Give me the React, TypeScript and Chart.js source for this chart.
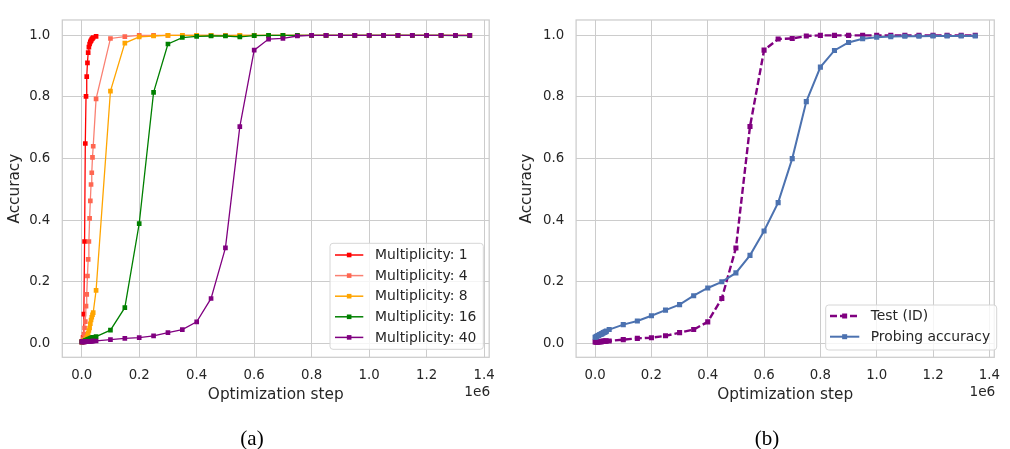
import React, { useEffect, useRef } from 'react';
import { Chart, registerables } from 'chart.js';

Chart.register(...registerables);

// ---------- data ----------
const stepsFine = [0, 2500, 5000, 7500, 10000, 12500, 15000, 17500, 20000, 22500, 25000, 27500, 30000, 32500, 35000, 37500, 40000];
const stepsCoarse = [50000, 100000, 150000, 200000, 250000, 300000, 350000, 400000, 450000, 500000, 550000, 600000, 650000, 700000, 750000, 800000, 850000, 900000, 950000, 1000000, 1050000, 1100000, 1150000, 1200000, 1250000, 1300000, 1350000];

const accM1Fine = [0.005, 0.007, 0.02, 0.095, 0.331, 0.649, 0.802, 0.866, 0.911, 0.944, 0.962, 0.972, 0.979, 0.983, 0.988, 0.99, 0.993];
const accM1Coarse = [0.997];

const accM4Fine = [0.005, 0.005, 0.015, 0.03, 0.05, 0.071, 0.121, 0.159, 0.219, 0.273, 0.331, 0.406, 0.463, 0.516, 0.554, 0.604, 0.64];
const accM4Coarse = [0.794, 0.99, 0.996, 1.0, 1.0, 1.0, 1.0, 1.0, 1.0, 1.0, 1.0, 1.0, 1.0, 1.0, 1.0, 1.0, 1.0, 1.0, 1.0, 1.0, 1.0, 1.0, 1.0, 1.0, 1.0, 1.0, 1.0];

const accM8Fine = [0.005, 0.005, 0.005, 0.008, 0.01, 0.012, 0.015, 0.02, 0.025, 0.033, 0.042, 0.05, 0.064, 0.076, 0.085, 0.093, 0.1];
const accM8Coarse = [0.172, 0.819, 0.975, 0.995, 0.998, 1.0, 1.0, 1.0, 1.0, 0.999, 1.0, 1.0, 1.0, 1.0, 1.0, 1.0, 1.0, 1.0, 1.0, 1.0, 1.0, 1.0, 1.0, 1.0, 1.0, 1.0, 1.0];

const accM16Fine = [0.005, 0.006, 0.006, 0.007, 0.008, 0.009, 0.01, 0.011, 0.012, 0.013, 0.014, 0.015, 0.016, 0.017, 0.018, 0.019, 0.02];
const accM16Coarse = [0.022, 0.043, 0.116, 0.389, 0.815, 0.972, 0.993, 0.997, 0.998, 0.998, 0.995, 0.999, 1.0, 1.0, 1.0, 1.0, 1.0, 1.0, 1.0, 1.0, 1.0, 1.0, 1.0, 1.0, 1.0, 0.999, 0.999];

const accM40Fine = [0.005, 0.005, 0.005, 0.005, 0.005, 0.006, 0.006, 0.006, 0.006, 0.006, 0.007, 0.007, 0.007, 0.007, 0.007, 0.008, 0.008];
const accM40Coarse = [0.008, 0.0124, 0.0165, 0.0186, 0.0248, 0.035, 0.045, 0.07, 0.146, 0.31, 0.704, 0.952, 0.988, 0.99, 0.998, 1.0, 1.0, 1.0, 1.0, 1.0, 1.0, 1.0, 1.0, 1.0, 1.0, 1.0, 1.0];

const testIdFine = accM40Fine;
const testIdCoarse = accM40Coarse;

const probeFine = [0.02, 0.021, 0.022, 0.024, 0.025, 0.026, 0.028, 0.029, 0.03, 0.031, 0.032, 0.034, 0.035, 0.036, 0.037, 0.038, 0.04];
const probeCoarse = [0.045, 0.061, 0.073, 0.09, 0.108, 0.126, 0.155, 0.18, 0.2, 0.229, 0.286, 0.365, 0.457, 0.6, 0.785, 0.897, 0.951, 0.977, 0.989, 0.994, 0.996, 0.997, 0.997, 0.998, 0.998, 0.998, 0.998];

const xTicks = [0, 200000, 400000, 600000, 800000, 1000000, 1200000, 1400000];
const yTicks = [0, 0.2, 0.4, 0.6, 0.8, 1.0];

const leftLabels = ['Multiplicity: 1', 'Multiplicity: 4', 'Multiplicity: 8', 'Multiplicity: 16', 'Multiplicity: 40'];
const rightLabels = ['Test (ID)', 'Probing accuracy'];

// ---------- style ----------
const FONT = '"DejaVu Sans", sans-serif';
const TEXT = '#262626';
const GRID = '#cccccc';
const FS = 13.3;
const FS_TITLE = 15.3;
const FS_LEGEND = 13.9;

const COLORS = {
  m1: { line: '#ff0000', mark: '#ff0000' },
  m4: { line: '#fa8072', mark: '#ff6650' },
  m8: { line: '#ffa500', mark: '#ffa500' },
  m16: { line: '#008000', mark: '#008000' },
  m40: { line: '#800080', mark: '#800080' },
  probe: { line: '#4c72b0', mark: '#4c72b0' },
};

function pts(steps: number[], vals: number[]) {
  return steps.map((s, i) => ({ x: s, y: vals[i] }));
}

type LegendItem = { label: string; line: string; mark: string; dash?: number[]; lw: number; r: number };
type LegendSpec = {
  x: number; y: number; w: number; h: number; rows: number[];
  hx0: number; hx1: number; tx: number; items: LegendItem[];
};

function overlayPlugin(legend: LegendSpec) {
  return {
    id: 'overlay',
    beforeDatasetsDraw(chart: any) {
      const { ctx, chartArea: a } = chart;
      ctx.save();
      ctx.strokeStyle = GRID;
      ctx.lineWidth = 1.25;
      ctx.strokeRect(a.left, a.top, a.right - a.left, a.bottom - a.top);
      ctx.restore();
    },
    afterDraw(chart: any) {
      const { ctx, chartArea: a } = chart;
      ctx.save();
      // offset text
      ctx.font = `${FS + 0.4}px ${FONT}`;
      ctx.fillStyle = TEXT;
      ctx.textAlign = 'right';
      ctx.textBaseline = 'middle';
      ctx.fillText('1e6', a.right + 1, 392);
      // legend box
      const L = legend;
      ctx.beginPath();
      const rr = 3;
      ctx.moveTo(L.x + rr, L.y);
      ctx.arcTo(L.x + L.w, L.y, L.x + L.w, L.y + L.h, rr);
      ctx.arcTo(L.x + L.w, L.y + L.h, L.x, L.y + L.h, rr);
      ctx.arcTo(L.x, L.y + L.h, L.x, L.y, rr);
      ctx.arcTo(L.x, L.y, L.x + L.w, L.y, rr);
      ctx.closePath();
      ctx.fillStyle = 'rgba(255,255,255,0.8)';
      ctx.fill();
      ctx.strokeStyle = '#d6d6d6';
      ctx.lineWidth = 1;
      ctx.stroke();
      L.items.forEach((it, i) => {
        const y = L.rows[i];
        ctx.beginPath();
        ctx.setLineDash(it.dash || []);
        ctx.strokeStyle = it.line;
        ctx.lineWidth = it.lw;
        ctx.moveTo(L.hx0, y);
        ctx.lineTo(L.hx1, y);
        ctx.stroke();
        ctx.setLineDash([]);
        const cx = (L.hx0 + L.hx1) / 2;
        ctx.fillStyle = it.mark;
        ctx.fillRect(cx - it.r, y - it.r, it.r * 2, it.r * 2);
        ctx.fillStyle = TEXT;
        ctx.textAlign = 'left';
        ctx.textBaseline = 'middle';
        ctx.font = `${FS_LEGEND}px ${FONT}`;
        ctx.fillText(it.label, L.tx, y + 0.5);
      });
      ctx.restore();
    },
  };
}

function scales(yWidth: number, yTitlePad: number) {
  return {
    x: {
      type: 'linear',
      min: -67500,
      max: 1417500,
      afterBuildTicks: (s: any) => { s.ticks = xTicks.map((v) => ({ value: v })); },
      afterFit: (s: any) => { s.height = 91.7; },
      grid: { color: GRID, lineWidth: 1, drawTicks: false },
      border: { display: false },
      ticks: {
        autoSkip: false, maxRotation: 0, padding: 10, color: TEXT,
        font: { family: FONT, size: FS },
        callback: (v: any) => (Number(v) / 1e6).toFixed(1),
      },
      title: {
        display: true, text: 'Optimization step', color: TEXT,
        font: { family: FONT, size: FS_TITLE }, padding: { top: 0, bottom: 44.8 },
      },
    },
    y: {
      type: 'linear',
      min: -0.045,
      max: 1.05,
      afterBuildTicks: (s: any) => { s.ticks = yTicks.map((v) => ({ value: v })); },
      afterFit: (s: any) => { s.width = yWidth; },
      grid: { color: GRID, lineWidth: 1, drawTicks: false },
      border: { display: false },
      ticks: {
        autoSkip: false, padding: 12, color: TEXT,
        font: { family: FONT, size: FS },
        callback: (v: any) => Number(v).toFixed(1),
      },
      title: {
        display: true, text: 'Accuracy', color: TEXT,
        font: { family: FONT, size: FS_TITLE }, padding: { top: yTitlePad, bottom: 0 },
      },
    },
  };
}

function leftConfig(): any {
  const series = [
    { label: leftLabels[0], data: pts([...stepsFine, 50000], [...accM1Fine, ...accM1Coarse]), c: COLORS.m1 },
    { label: leftLabels[1], data: pts([...stepsFine, ...stepsCoarse], [...accM4Fine, ...accM4Coarse]), c: COLORS.m4 },
    { label: leftLabels[2], data: pts([...stepsFine, ...stepsCoarse], [...accM8Fine, ...accM8Coarse]), c: COLORS.m8 },
    { label: leftLabels[3], data: pts([...stepsFine, ...stepsCoarse], [...accM16Fine, ...accM16Coarse]), c: COLORS.m16 },
    { label: leftLabels[4], data: pts([...stepsFine, ...stepsCoarse], [...accM40Fine, ...accM40Coarse]), c: COLORS.m40 },
  ];
  const n = series.length;
  return {
    type: 'line',
    data: {
      datasets: series.map((s, i) => ({
        label: s.label,
        data: s.data,
        borderColor: s.c.line,
        backgroundColor: s.c.mark,
        borderWidth: 1.3,
        pointStyle: 'rect',
        pointRadius: 3.3,
        pointBorderWidth: 0,
        pointBackgroundColor: s.c.mark,
        pointHoverRadius: 3.3,
        tension: 0,
        fill: false,
        order: n - 1 - i,
      })),
    },
    options: {
      responsive: false,
      devicePixelRatio: 1,
      animation: false,
      events: [],
      layout: { padding: { top: 3.1, right: 15.8, left: 0, bottom: 0 } },
      plugins: { legend: { display: false }, tooltip: { enabled: false } },
      scales: scales(62.3, 5.8),
    },
    plugins: [overlayPlugin({
      x: 330, y: 243.3, w: 153.3, h: 106,
      rows: [255, 275.6, 296.2, 316.8, 337.4],
      hx0: 335, hx1: 363.3, tx: 375,
      items: [
        { label: leftLabels[0], line: COLORS.m1.line, mark: COLORS.m1.mark, lw: 1.5, r: 2.3 },
        { label: leftLabels[1], line: COLORS.m4.line, mark: COLORS.m4.mark, lw: 1.5, r: 2.3 },
        { label: leftLabels[2], line: COLORS.m8.line, mark: COLORS.m8.mark, lw: 1.5, r: 2.3 },
        { label: leftLabels[3], line: COLORS.m16.line, mark: COLORS.m16.mark, lw: 1.5, r: 2.3 },
        { label: leftLabels[4], line: COLORS.m40.line, mark: COLORS.m40.mark, lw: 1.5, r: 2.3 },
      ],
    })],
  };
}

function rightConfig(): any {
  return {
    type: 'line',
    data: {
      datasets: [
        {
          label: rightLabels[0],
          data: pts([...stepsFine, ...stepsCoarse], [...testIdFine, ...testIdCoarse]),
          borderColor: COLORS.m40.line,
          backgroundColor: COLORS.m40.mark,
          borderWidth: 2.4,
          borderDash: [7, 3],
          pointStyle: 'rect',
          pointRadius: 3.6,
          pointBorderWidth: 0,
          pointBackgroundColor: COLORS.m40.mark,
          tension: 0,
          fill: false,
          order: 1,
        },
        {
          label: rightLabels[1],
          data: pts([...stepsFine, ...stepsCoarse], [...probeFine, ...probeCoarse]),
          borderColor: COLORS.probe.line,
          backgroundColor: COLORS.probe.mark,
          borderWidth: 2,
          pointStyle: 'rect',
          pointRadius: 3.6,
          pointBorderWidth: 0,
          pointBackgroundColor: COLORS.probe.mark,
          tension: 0,
          fill: false,
          order: 0,
        },
      ],
    },
    options: {
      responsive: false,
      devicePixelRatio: 1,
      animation: false,
      events: [],
      layout: { padding: { top: 3.1, right: 6.8, left: 0, bottom: 0 } },
      plugins: { legend: { display: false }, tooltip: { enabled: false } },
      scales: scales(71.1, 13.3),
    },
    plugins: [overlayPlugin({
      x: 320.7, y: 305, w: 171, h: 45,
      rows: [316, 336.7],
      hx0: 325, hx1: 354.3, tx: 365.7,
      items: [
        { label: rightLabels[0], line: COLORS.m40.line, mark: COLORS.m40.mark, dash: [7, 3], lw: 2.4, r: 2.5 },
        { label: rightLabels[1], line: COLORS.probe.line, mark: COLORS.probe.mark, lw: 2, r: 2.5 },
      ],
    })],
  };
}

function Panel({ config, left }: { config: () => any; left: number }) {
  const ref = useRef<HTMLCanvasElement | null>(null);
  useEffect(() => {
    if (!ref.current) return;
    const chart = new Chart(ref.current, config());
    return () => chart.destroy();
  }, []);
  return (
    <canvas
      ref={ref}
      width={505}
      height={449}
      style={{ position: 'absolute', left, top: 0, width: 505, height: 449 }}
    />
  );
}

const captionStyle: React.CSSProperties = {
  position: 'absolute',
  top: 426,
  width: 100,
  textAlign: 'center',
  fontFamily: '"Liberation Serif", "Times New Roman", serif',
  fontSize: 21,
  lineHeight: '24px',
  color: '#000',
};

export default function App() {
  return (
    <div style={{ position: 'fixed', left: 0, top: 0, width: 1010, height: 449, background: '#fff', overflow: 'hidden' }}>
      <Panel config={leftConfig} left={0} />
      <Panel config={rightConfig} left={505} />
      <div style={{ ...captionStyle, left: 252 - 50 }}>(a)</div>
      <div style={{ ...captionStyle, left: 767 - 50 }}>(b)</div>
    </div>
  );
}
